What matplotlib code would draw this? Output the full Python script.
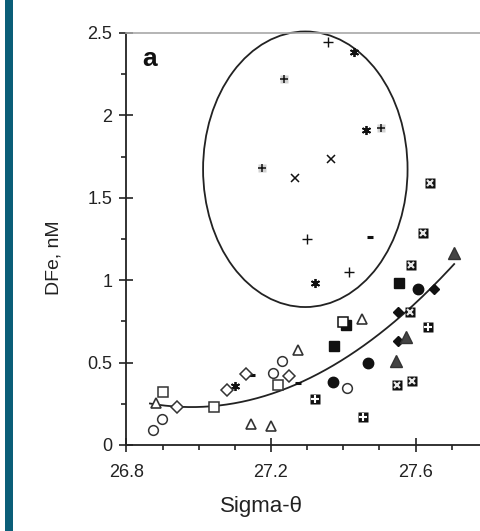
import numpy as np
import matplotlib
matplotlib.use("Agg")
import matplotlib.pyplot as plt
from matplotlib.patches import Ellipse, Rectangle
from matplotlib.ticker import MultipleLocator
from matplotlib import transforms

plt.rcParams['font.family'] = ['Liberation Sans', 'DejaVu Sans']

# sigma-theta / DFe samples, grouped by symbol
gray_plus_x = [27.236, 27.175, 27.504]
gray_plus_y = [2.221, 1.681, 1.924]
plus_x = [27.358, 27.300, 27.416]
plus_y = [2.445, 1.250, 1.050]
cross_x = [27.266, 27.366]
cross_y = [1.620, 1.735]
aster_x = [27.430, 27.463, 27.322, 27.100]
aster_y = [2.385, 1.911, 0.983, 0.358]
dash_x = [27.474, 27.147, 27.275]
dash_y = [1.262, 0.425, 0.376]

boxed_x_x = [27.640, 27.621, 27.587, 27.585, 27.548, 27.590]
boxed_x_y = [1.590, 1.286, 1.092, 0.807, 0.364, 0.388]
boxed_plus_x = [27.635, 27.322, 27.455]
boxed_plus_y = [0.716, 0.279, 0.170]
sq_fill_x = [27.554, 27.375]
sq_fill_y = [0.983, 0.601]
sq_shadow_x = [27.400]
sq_shadow_y = [0.746]
circ_fill_x = [27.607, 27.469, 27.372]
circ_fill_y = [0.947, 0.498, 0.382]
circ_open_x = [27.410, 27.230, 27.206, 26.898, 26.874]
circ_open_y = [0.346, 0.510, 0.437, 0.158, 0.091]
diam_fill_x = [27.651, 27.552, 27.552]
diam_fill_y = [0.947, 0.807, 0.631]
tri_fill_x = [27.707, 27.574, 27.546]
tri_fill_y = [1.165, 0.655, 0.510]
tri_open_x = [27.452, 27.275, 27.145, 27.200, 26.882]
tri_open_y = [0.765, 0.576, 0.127, 0.115, 0.255]
sq_open_x = [26.901, 27.042, 27.219]
sq_open_y = [0.322, 0.231, 0.364]
diam_open_x = [26.940, 27.078, 27.131, 27.250]
diam_open_y = [0.231, 0.334, 0.431, 0.419]

# quadratic trend: k * (x - x0)^2 + c, and its x range
trend_k, trend_x0, trend_c = 1.642, 26.98, 0.23
trend_range = (26.865, 27.707)

# outlier group ellipse: center, width, height
ell_center = (27.295, 1.673)
ell_w, ell_h = 0.566, 1.672

fig = plt.figure(figsize=(4.8, 5.31), dpi=100)
ax = fig.add_axes([0.2635, 0.162, 0.7365, 0.7759])

# teal strip down the left edge
fig.add_artist(Rectangle((5 / 480, 0), 8 / 480, 1, transform=fig.transFigure,
                         color='#0b5e78', lw=0))

ax.add_patch(Ellipse(ell_center, ell_w, ell_h, fill=False, ec='#222222',
                     lw=1.3, clip_on=False))

tx = np.linspace(trend_range[0], trend_range[1], 200)
ax.plot(tx, trend_k * (tx - trend_x0) ** 2 + trend_c, color='#222222', lw=1.3)

kw = dict(ls='none', clip_on=False)
ax.plot(gray_plus_x, gray_plus_y, marker='s', ms=6.2, mfc='#d2d2d2', mec='none', **kw)
ax.plot(gray_plus_x, gray_plus_y, marker='+', ms=5.5, mew=1.1, color='#111111', **kw)
ax.plot(plus_x, plus_y, marker='+', ms=6.5, mew=1.0, color='#111111', **kw)
ax.plot(cross_x, cross_y, marker='x', ms=5.5, mew=1.1, color='#111111', **kw)
ax.plot(aster_x, aster_y, marker=(6, 2, 0), ms=6.5, mew=1.3, color='#111111', **kw)
ax.plot(dash_x, dash_y, marker='_', ms=4.5, mew=2.2, color='#111111', **kw)

ax.plot(boxed_x_x, boxed_x_y, marker='s', ms=7.4, mfc='#111111', mec='none', **kw)
ax.plot(boxed_x_x, boxed_x_y, marker='x', ms=5, mew=1.6, color='#e8e8e8', **kw)
ax.plot(boxed_plus_x, boxed_plus_y, marker='s', ms=7.4, mfc='#111111', mec='none', **kw)
ax.plot(boxed_plus_x, boxed_plus_y, marker='+', ms=6, mew=1.5, color='white', **kw)

shadow = transforms.offset_copy(ax.transData, fig=fig, x=2, y=-2, units='points')
ax.plot(sq_shadow_x, sq_shadow_y, marker='s', ms=7, mfc='#111111', mec='#111111',
        transform=shadow, **kw)
ax.plot(sq_shadow_x, sq_shadow_y, marker='s', ms=7, mfc='white', mec='#111111',
        mew=1.1, **kw)

ax.plot(sq_fill_x, sq_fill_y, marker='s', ms=7, mfc='#111111', mec='#111111', **kw)
ax.plot(circ_fill_x, circ_fill_y, marker='o', ms=7.5, mfc='#111111', mec='#111111', **kw)
ax.plot(circ_open_x, circ_open_y, marker='o', ms=7, mfc='white', mec='#333333',
        mew=1.1, **kw)
ax.plot(diam_fill_x, diam_fill_y, marker='D', ms=5.5, mfc='#111111', mec='#111111', **kw)
ax.plot(tri_fill_x, tri_fill_y, marker='^', ms=8, mfc='#444444', mec='#333333', **kw)
ax.plot(tri_open_x, tri_open_y, marker='^', ms=7.5, mfc='white', mec='#333333',
        mew=1.2, **kw)
ax.plot(sq_open_x, sq_open_y, marker='s', ms=7.2, mfc='white', mec='#333333',
        mew=1.1, **kw)
ax.plot(diam_open_x, diam_open_y, marker='D', ms=6, mfc='white', mec='#333333',
        mew=1.1, **kw)

ax.set_xlim(26.8, 27.7785)
ax.set_ylim(0, 2.5)
ax.xaxis.set_major_locator(MultipleLocator(0.4))
ax.xaxis.set_minor_locator(MultipleLocator(0.1))
ax.yaxis.set_major_locator(MultipleLocator(0.5))
ax.yaxis.set_minor_locator(MultipleLocator(0.25))
ax.set_xticks([26.8, 27.2, 27.6])
ax.set_xticklabels(['26.8', '27.2', '27.6'])
ax.set_yticks([0, 0.5, 1, 1.5, 2, 2.5])
ax.set_yticklabels(['0', '0.5', '1', '1.5', '2', '2.5'])

for side in ('left', 'bottom'):
    ax.spines[side].set_color('#222222')
    ax.spines[side].set_linewidth(1.3)
ax.spines['top'].set_color('#a8a8a8')
ax.spines['top'].set_linewidth(1.2)
ax.spines['right'].set_visible(False)

ax.tick_params(which='major', direction='inout', length=9.5, width=1.2,
               color='#222222', labelsize=13, labelcolor='#222222')
ax.tick_params(which='minor', direction='out', length=3.8, width=1.2, color='#222222')
ax.tick_params(axis='y', which='major', pad=5.5)
ax.tick_params(axis='x', which='major', pad=9)

ax.set_xlabel('Sigma-θ', fontsize=16, color='#222222')
ax.xaxis.set_label_coords(0.383, -0.125)
ax.set_ylabel('DFe, nM', fontsize=14, color='#222222')
ax.yaxis.set_label_coords(-0.18, 0.454)

ax.text(0.045, 0.965, 'a', transform=ax.transAxes, fontsize=19,
        fontweight='bold', va='top', ha='left', color='#111111')

fig.savefig('out.png', dpi=100)
